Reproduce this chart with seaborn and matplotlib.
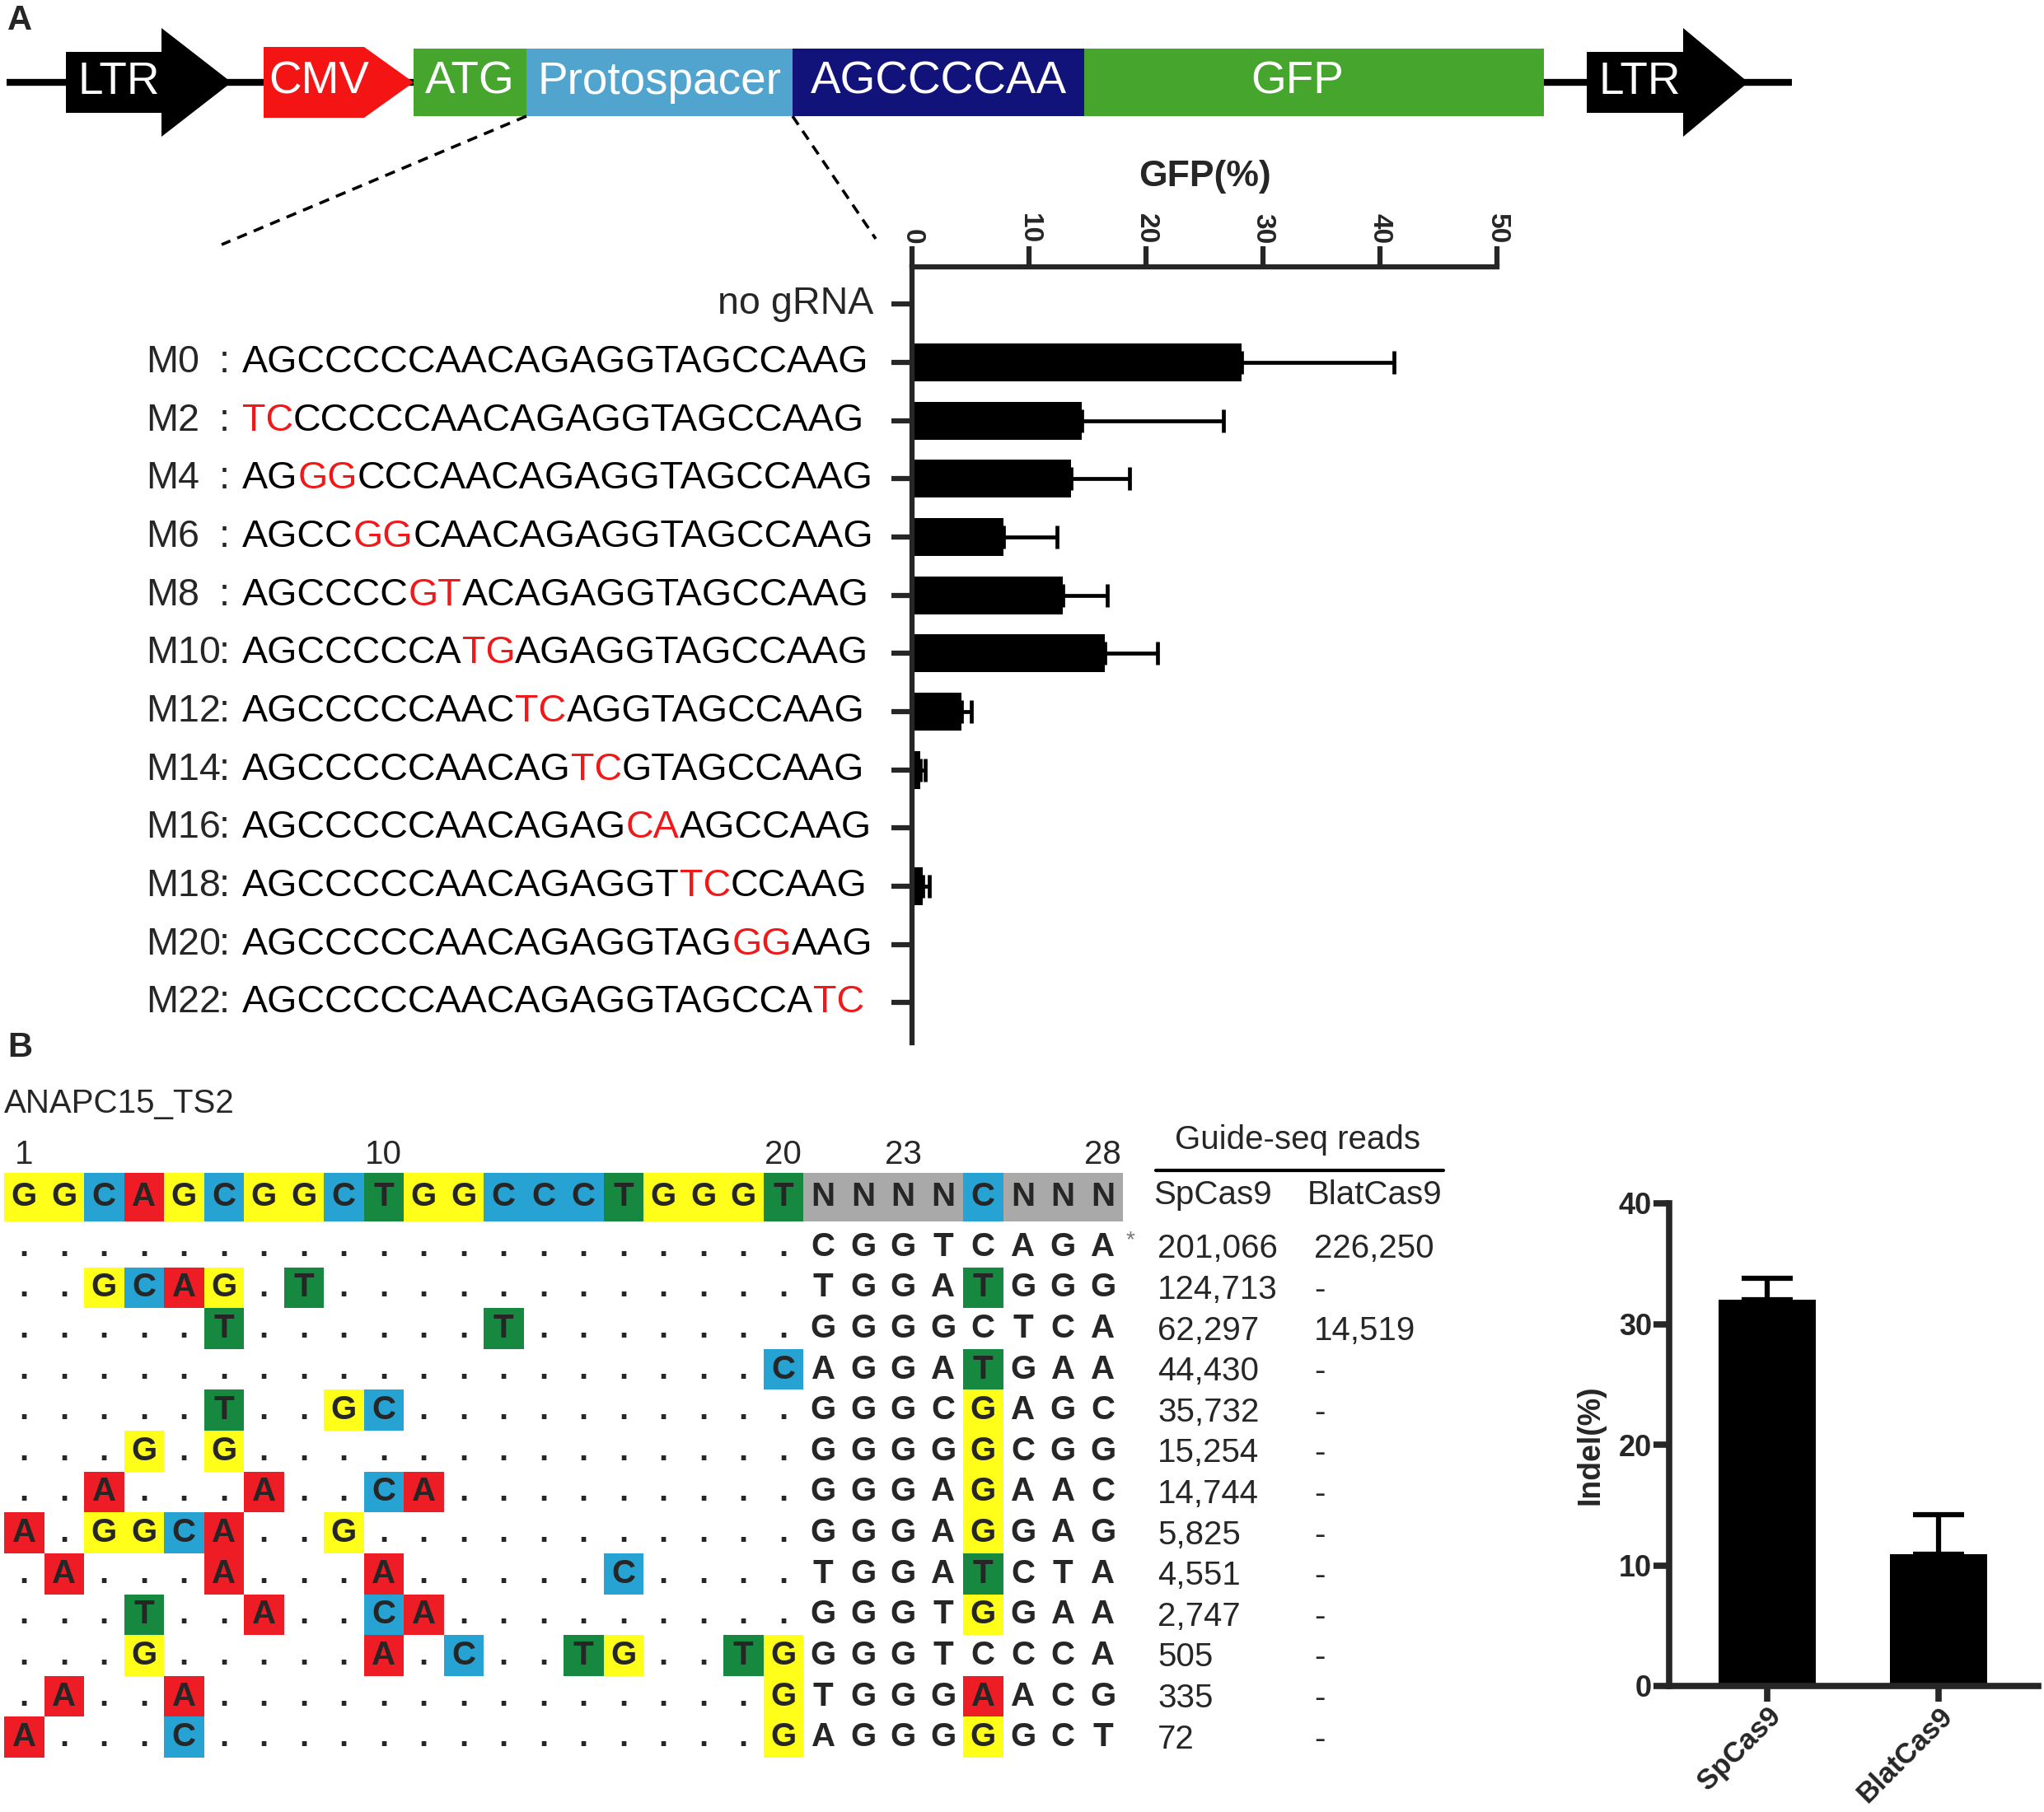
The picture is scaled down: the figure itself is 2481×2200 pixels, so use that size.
import numpy as np
import matplotlib
matplotlib.use("Agg")
import matplotlib.pyplot as plt
from matplotlib import transforms
from matplotlib.colors import ListedColormap
from matplotlib.patches import Polygon
import seaborn as sns

# ---- panel A: reporter construct ----
construct_labels = ["LTR", "CMV", "ATG", "Protospacer", "AGCCCCAA", "GFP", "LTR"]
construct_colors = ["black", "#f41414", "#45a52c", "#51a4cd", "#12137a", "#45a52c", "black"]

# ---- panel A: GFP(%) for each protospacer variant ----
wt_seq = "AGCCCCCAACAGAGGTAGCCAAG"
variant_names = ["no gRNA", "M0", "M2", "M4", "M6", "M8", "M10", "M12",
                 "M14", "M16", "M18", "M20", "M22"]
variant_seqs = ["",
                "AGCCCCCAACAGAGGTAGCCAAG", "TCCCCCCAACAGAGGTAGCCAAG",
                "AGGGCCCAACAGAGGTAGCCAAG", "AGCCGGCAACAGAGGTAGCCAAG",
                "AGCCCCGTACAGAGGTAGCCAAG", "AGCCCCCATGAGAGGTAGCCAAG",
                "AGCCCCCAACTCAGGTAGCCAAG", "AGCCCCCAACAGTCGTAGCCAAG",
                "AGCCCCCAACAGAGCAAGCCAAG", "AGCCCCCAACAGAGGTTCCCAAG",
                "AGCCCCCAACAGAGGTAGGGAAG", "AGCCCCCAACAGAGGTAGCCATC"]
gfp_mean = [0.1, 28.2, 14.5, 13.6, 7.8, 12.9, 16.5, 4.2, 0.7, 0.15, 0.9, 0.0, 0.0]
gfp_err = [0.0, 13.0, 12.1, 5.0, 4.6, 3.8, 4.5, 0.9, 0.45, 0.0, 0.55, 0.0, 0.0]
gfp_ticks = [0, 10, 20, 30, 40, 50]

# ---- panel B: ANAPC15_TS2 off-target sites ----
site_name = "ANAPC15_TS2"
ref_seq = "GGCAGCGGCTGGCCCTGGGTNNNNCNNN"
pos_marks = [1, 10, 20, 23, 28]
site_rows = [
    "....................CGGTCAGA",
    "..GCAG.T............TGGATGGG",
    ".....T......T.......GGGGCTCA",
    "...................CAGGATGAA",
    ".....T..GC..........GGGCGAGC",
    "...G.G..............GGGGGCGG",
    "..A...A..CA.........GGGAGAAC",
    "A.GGCA..G...........GGGAGGAG",
    ".A...A...A.....C....TGGATCTA",
    "...T..A..CA.........GGGTGGAA",
    "...G.....A.C..TG..TGGGGTCCCA",
    ".A..A..............GTGGGAACG",
    "A...C..............GAGGGGGCT",
]
reads_spcas9 = [201066, 124713, 62297, 44430, 35732, 15254, 14744, 5825, 4551, 2747, 505, 335, 72]
reads_blatcas9 = [226250, None, 14519, None, None, None, None, None, None, None, None, None, None]

# ---- panel B: indel frequency ----
indel_groups = ["SpCas9", "BlatCas9"]
indel_mean = [32.0, 10.9]
indel_err = [1.8, 3.3]

base_colors = {"A": "#ee1c24", "C": "#27a3d3", "G": "#ffff1a", "T": "#17883f", "N": "#a9a9a9"}
base_order = ["A", "C", "G", "T", "N"]

sns.set_style("ticks")
plt.rcParams["font.family"] = ["Liberation Sans", "DejaVu Sans"]

W, H = 2481, 2200
fig = plt.figure(figsize=(W / 100, H / 100), dpi=100)

# background axes in pixel units, for the schematic and free text
ax0 = fig.add_axes([0, 0, 1, 1])
ax0.set_xlim(0, W)
ax0.set_ylim(H, 0)
ax0.axis("off")


def fbox(x0, y0, x1, y1):
    return [x0 / W, 1 - y1 / H, (x1 - x0) / W, (y1 - y0) / H]


ax_a = fig.add_axes(fbox(1107, 324, 1817, 1266))
ax_ref = fig.add_axes(fbox(5, 1424, 1363, 1483))
ax_aln = fig.add_axes(fbox(5, 1489, 1363, 2134))
ax_b = fig.add_axes(fbox(2026, 1461, 2474, 2047))

# panel letters
ax0.text(9, 25, "A", fontsize=30, fontweight="bold", va="center")
ax0.text(9, 1272, "B", fontsize=30, fontweight="bold", va="center")

# ---------------- construct ----------------
yc = 100
ax0.plot([8, 2175], [yc, yc], color="black", lw=6, zorder=1, solid_capstyle="butt")
el_width = [116, 122, 137, 323, 354, 558, 117]
el_head = [85, 60, 0, 0, 0, 0, 79]
el_gap = [39, 0, 0, 0, 0, 52, 0]
el_half = [37, 43, 41, 41, 41, 41, 37]
head_half = [66, 43, 0, 0, 0, 0, 66]
text_shift = [6, 6, 0, 0, 0, -20, 6]
x = 80
box_x = []
for i, lab in enumerate(construct_labels):
    bw, hw, h, hh = el_width[i], el_head[i], el_half[i], head_half[i]
    pts = [(x, yc - h), (x + bw, yc - h)]
    if hw > 0:
        pts += [(x + bw, yc - hh), (x + bw + hw, yc), (x + bw, yc + hh)]
    pts += [(x + bw, yc + h), (x, yc + h)]
    ax0.add_patch(Polygon(pts, closed=True, facecolor=construct_colors[i],
                          edgecolor="none", zorder=2))
    ax0.text(x + bw / 2 + text_shift[i], yc, lab, color="white", fontsize=39.5,
             ha="center", va="center", zorder=3)
    box_x.append((x, x + bw))
    x = x + bw + hw + el_gap[i]

# dashed zoom lines from the protospacer box
p0, p1 = box_x[3]
ax0.plot([p0, 269], [yc + 41, 297], color="black", lw=2.6, ls=(0, (3.5, 2.5)))
ax0.plot([p1, 1063], [yc + 41, 290], color="black", lw=2.6, ls=(0, (3.5, 2.5)))

# ---------------- panel A bars ----------------
sns.barplot(x=gfp_mean, y=variant_names, orient="h", color="black", saturation=1,
            width=0.65, errorbar=None, linewidth=0, ax=ax_a)
err_idx = [i for i, e in enumerate(gfp_err) if e > 0]
ax_a.errorbar([gfp_mean[i] for i in err_idx], err_idx,
              xerr=[[0] * len(err_idx), [gfp_err[i] for i in err_idx]],
              fmt="none", ecolor="black", elinewidth=3.4, capsize=10, capthick=3.4)
ax_a.set_xlim(0, 50)
ax_a.set_ylim(12.69, -0.64)
ax_a.xaxis.tick_top()
ax_a.xaxis.set_label_position("top")
ax_a.set_xticks(gfp_ticks)
ax_a.set_xticklabels([str(t) for t in gfp_ticks], rotation=-90, fontweight="bold", fontsize=24)
ax_a.set_yticks(range(len(variant_names)))
ax_a.set_yticklabels([])
ax_a.set_ylabel("")
ax_a.set_xlabel("GFP(%)", fontweight="bold", fontsize=32, labelpad=24)
for s in ["right", "bottom"]:
    ax_a.spines[s].set_visible(False)
for s in ["top", "left"]:
    ax_a.spines[s].set_linewidth(4.5)
ax_a.tick_params(axis="both", length=18, width=4.5, direction="out", pad=2)

# variant labels with mutated bases in red
rowtr = transforms.blended_transform_factory(ax0.transData, ax_a.transData)
seq_fs = 33.6
for i, (name, seq) in enumerate(zip(variant_names, variant_seqs)):
    if not seq:
        ax0.text(1060, i, name, transform=rowtr, ha="right", va="center", fontsize=seq_fs)
        continue
    ax0.text(177, i, name, transform=rowtr, ha="left", va="center", fontsize=seq_fs)
    ax0.text(266, i, ":", transform=rowtr, ha="left", va="center", fontsize=seq_fs)
    runs = []
    for ch, w in zip(seq, wt_seq):
        col = "#f01818" if ch != w else "black"
        if runs and runs[-1][1] == col:
            runs[-1][0] += ch
        else:
            runs.append([ch, col])
    t = ax0.text(294, i, runs[0][0], color=runs[0][1], transform=rowtr,
                 ha="left", va="center", fontsize=seq_fs)
    for s, col in runs[1:]:
        t = ax0.annotate(s, xy=(1, 0), xycoords=t, ha="left", va="bottom",
                         color=col, fontsize=seq_fs)

# ---------------- panel B alignment ----------------
ax0.text(5, 1340, site_name, fontsize=29, ha="left", va="center")
cell_cmap = ListedColormap([base_colors[b] for b in base_order])
code = {b: k for k, b in enumerate(base_order)}
aln_fs = 29

ref_codes = np.array([[code[c] for c in ref_seq]], dtype=float)
sns.heatmap(ref_codes, ax=ax_ref, cmap=cell_cmap, vmin=-0.5, vmax=4.5, cbar=False,
            xticklabels=False, yticklabels=False)
for j, ch in enumerate(ref_seq):
    ax_ref.text(j + 0.5, 0.5, ch, ha="center", va="center", fontweight="bold", fontsize=aln_fs)

aln_codes = np.full((len(site_rows), len(ref_seq)), np.nan)
for i, row in enumerate(site_rows):
    for j, ch in enumerate(row):
        if ch != "." and ref_seq[j] != "N" and ch != ref_seq[j]:
            aln_codes[i, j] = code[ch]
sns.heatmap(aln_codes, mask=np.isnan(aln_codes), ax=ax_aln, cmap=cell_cmap,
            vmin=-0.5, vmax=4.5, cbar=False, xticklabels=False, yticklabels=False)
for i, row in enumerate(site_rows):
    for j, ch in enumerate(row):
        ax_aln.text(j + 0.5, i + 0.5, ch, ha="center", va="center",
                    fontweight="bold", fontsize=aln_fs)
ax_aln.set_xlim(0, len(ref_seq))
ax_aln.set_ylim(len(site_rows), 0)

# position numbers over the reference row
postr = transforms.blended_transform_factory(ax_ref.transData, ax0.transData)
for p in pos_marks:
    ax0.text(p - 0.5, 1402, str(p), transform=postr, ha="center", va="center", fontsize=29)

# little asterisk after the on-target row
ax0.text(1367, 1506, "*", color="#777777", fontsize=20, ha="left", va="center")

# reads table
ax0.text(1575, 1384, "Guide-seq reads", fontsize=29, ha="center", va="center")
ax0.plot([1403, 1752], [1421, 1421], color="black", lw=3)
ax0.text(1400, 1451, "SpCas9", fontsize=29, ha="left", va="center")
ax0.text(1587, 1451, "BlatCas9", fontsize=29, ha="left", va="center")
tabtr = transforms.blended_transform_factory(ax0.transData, ax_aln.transData)
for i, (sp, bl) in enumerate(zip(reads_spcas9, reads_blatcas9)):
    ax0.text(1405, i + 0.55, f"{sp:,}", transform=tabtr, fontsize=29, ha="left", va="center")
    ax0.text(1595, i + 0.55, "-" if bl is None else f"{bl:,}", transform=tabtr,
             fontsize=29, ha="left", va="center")

# ---------------- panel B indel bars ----------------
sns.barplot(x=indel_groups, y=indel_mean, color="black", saturation=1, width=0.57,
            errorbar=None, linewidth=0, ax=ax_b)
ax_b.errorbar(range(len(indel_groups)), indel_mean,
              yerr=[[0] * len(indel_err), indel_err], fmt="none", ecolor="black",
              elinewidth=4.5, capsize=22, capthick=4.5)
ax_b.set_xlim(-0.572, 1.582)
ax_b.set_ylim(0, 40)
ax_b.set_yticks([0, 10, 20, 30, 40])
ax_b.set_yticklabels(["0", "10", "20", "30", "40"], fontweight="bold", fontsize=26)
ax_b.set_xticks(range(len(indel_groups)))
ax_b.set_xticklabels(indel_groups, rotation=45, ha="right", rotation_mode="anchor",
                     fontweight="bold", fontsize=25)
ax_b.set_ylabel("Indel(%)", fontweight="bold", fontsize=27, labelpad=12)
ax_b.set_xlabel("")
for s in ["top", "right"]:
    ax_b.spines[s].set_visible(False)
for s in ["left", "bottom"]:
    ax_b.spines[s].set_linewidth(5.5)
ax_b.tick_params(axis="both", length=14, width=5.5, direction="out", pad=1)
ax_b.tick_params(axis="x", pad=0)

fig.savefig("out.png", dpi=100, facecolor="white")
